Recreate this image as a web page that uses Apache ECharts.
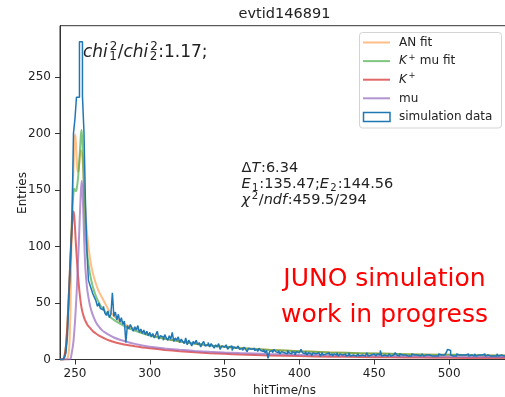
<!DOCTYPE html>
<html>
<head>
<meta charset="utf-8">
<script src="https://cdn.jsdelivr.net/npm/echarts@6/dist/echarts.min.js"></script>
<style>
  html, body { margin: 0; padding: 0; background: #fff; }
  #chart { width: 505px; height: 397px; }
</style>
</head>
<body>
<div id="chart"></div>
<script>
// ---- histogram: 1 ns bins starting at 240 ns ----
const binStart = 240;
const binWidth = 1;
const counts = [
  0, 0, 0, 2, 6, 22, 59, 91, 120, 200,
  213, 232, 232, 281, 281, 233, 202, 140, 96, 70,
  66, 62, 58, 55, 52, 47, 50, 45, 44, 47,
  41, 39, 43, 37, 40, 59, 38, 42, 35, 40,
  33, 37, 31, 34, 15, 30, 27, 31, 28, 25,
  29, 26, 30, 24, 27, 23, 26, 22, 25, 21,
  24, 20, 23, 19, 22, 25, 18, 21, 20, 17,
  22, 19, 17, 21, 18, 24, 16, 19, 17, 20,
  15, 18, 16, 14, 19, 13, 17, 15, 12, 16,
  14, 17, 13, 15, 11, 14, 16, 12, 13, 15,
  11, 14, 12, 10, 13, 11, 14, 9, 12, 11,
  10, 13, 9, 11, 12, 8, 11, 10, 9, 12,
  9, 10, 8, 11, 9, 7, 10, 9, 8, 10,
  8, 9, 7, 10, 8, 7, 9, 6, 8, 1,
  7, 8, 6, 9, 7, 6, 8, 5, 7, 6,
  7, 5, 8, 6, 5, 7, 6, 4, 7, 6,
  5, 9, 6, 5, 7, 4, 6, 5, 3, 6,
  5, 4, 6, 5, 3, 6, 4, 5, 4, 6,
  4, 5, 3, 5, 4, 6, 3, 5, 4, 4,
  5, 3, 4, 6, 3, 4, 5, 3, 4, 5,
  3, 4, 5, 3, 4, 6, 3, 4, 3, 5,
  4, 3, 5, 4, 8, 3, 4, 5, 3, 4,
  5, 3, 4, 3, 6, 4, 3, 5, 4, 3,
  4, 5, 3, 4, 3, 5, 4, 3, 4, 5,
  3, 4, 5, 3, 4, 3, 4, 5, 3, 4,
  3, 4, 3, 5, 4, 3, 4, 3, 6, 9,
  8, 4, 3, 4, 3, 5, 4, 3, 4, 3,
  4, 3, 5, 3, 4, 3, 3, 5, 3, 4,
  3, 4, 3, 5, 3, 4, 3, 3, 4, 3,
  4, 3, 5, 3, 4, 3, 3, 4, 3, 3
];

// ---- fitted curves, sampled in time (ns) ----
const fitTime = [
  240, 242, 243, 244, 245, 246,
  246.5, 247, 247.5, 248, 248.5, 249, 249.5, 250,
  250.5, 251, 251.5, 252, 252.5, 253, 253.5, 254,
  254.5, 255, 255.5, 256, 256.5, 257,
  258, 259, 260, 261, 262,
  264, 266, 268, 270, 273, 276, 280,
  285, 290, 295, 300,
  310, 320, 330, 340, 350, 360,
  380, 400, 420, 440, 460, 480, 500, 520, 540
];
const anFit = [
  0, 0, 0, 0, 1, 8,
  20, 45, 90, 125, 150, 168, 188, 199,
  195, 182, 170, 166, 168, 175, 182, 185,
  183, 178, 168, 155, 142, 130,
  113, 100, 90, 82, 76,
  67, 60, 55, 50, 43, 38.5, 34,
  30, 27, 24.3, 22,
  18.5, 16, 14, 12.5, 11.2, 10.2,
  8.6, 7.4, 6.4, 5.6, 5, 4.5, 4.1, 3.8, 3.4
];
const kmuFit = [
  0, 0, 3, 12, 32, 60,
  75, 90.5, 107, 124, 138, 147, 151, 150,
  149, 150, 154, 160, 168, 178, 189, 199,
  203, 192, 172.5, 149.5, 129.5, 114,
  95.5, 84.5, 76, 69.5, 64,
  56, 50.2, 45.8, 42.5, 38.3, 35, 31.7,
  28.3, 25.5, 23.1, 21.2,
  18.3, 16, 14, 12.4, 11.2, 10.1,
  8.5, 7.3, 6.3, 5.6, 5, 4.5, 4.1, 3.75, 3.4
];
const kPlus = [
  0, 0, 3, 12, 32, 60,
  75, 90, 104, 117, 127, 131, 127, 117,
  105, 94, 84, 75, 67, 60, 54, 49,
  45, 42, 39.5, 37.5, 35.5, 34,
  31.5, 29.5, 28, 26.5, 25,
  23, 21.2, 19.8, 18.5, 16.8, 15.5, 14.2,
  12.8, 11.7, 10.7, 9.9,
  8.5, 7.4, 6.4, 5.6, 5, 4.4,
  3.6, 3, 2.5, 2.2, 1.9, 1.7, 1.5, 1.35, 1.2
];
const muFit = [
  0, 0, 0, 0, 0, 0,
  0, 0.5, 3, 7, 11, 16, 24, 33,
  44, 56, 70, 85, 101, 118, 135, 150,
  158, 150, 133, 112, 94, 80,
  64, 55, 48, 43, 39,
  33, 29, 26, 24, 21.5, 19.5, 17.5,
  15.5, 13.8, 12.4, 11.3,
  9.8, 8.6, 7.6, 6.8, 6.2, 5.7,
  4.9, 4.3, 3.8, 3.4, 3.1, 2.8, 2.6, 2.4, 2.2
];

const xTicks = [250, 300, 350, 400, 450, 500];
const yTicks = [0, 50, 100, 150, 200, 250];

// ---- colours ----
const C_AN = 'rgba(255,127,14,0.5)';
const C_KMU = 'rgba(44,160,44,0.6)';
const C_K = 'rgba(214,39,40,0.7)';
const C_MU = 'rgba(148,103,189,0.7)';
const C_DATA = '#1f77b4';
const INK = '#222';
const FAMILY = '"DejaVu Sans"';

// ---- small text layout helpers (italic, superscripts, subscripts) ----
const meas = document.createElement('canvas').getContext('2d');
function textW(s, size, italic) {
  meas.font = (italic ? 'italic ' : '') + size + 'px ' + FAMILY;
  return meas.measureText(s).width;
}
function txt(s, x, base, size, italic, color) {
  return {
    type: 'text', x: x, y: base - size * 0.35, silent: true,
    style: {
      text: s, fontSize: size, fontFamily: 'DejaVu Sans',
      fontStyle: italic ? 'italic' : 'normal',
      fill: color, align: 'left', verticalAlign: 'middle'
    }
  };
}
function mathRun(x, base, size, color, segs) {
  const out = [];
  const small = size * 0.7;
  let cx = x;
  segs.forEach(function (s) {
    if (s.t != null) {
      out.push(txt(s.t, cx, base, size, s.i, color));
      cx += textW(s.t, size, s.i) + (s.i ? size * 0.05 : 0);
    } else {
      let w = 0;
      if (s.sup != null) {
        out.push(txt(s.sup, cx + 1, base - size * 0.42, small, false, color));
        w = Math.max(w, textW(s.sup, small, false));
      }
      if (s.sub != null) {
        out.push(txt(s.sub, cx + 0.5, base + size * 0.18, small, false, color));
        w = Math.max(w, textW(s.sub, small, false));
      }
      cx += w + 1.5;
    }
  });
  return out;
}

// ---- legend ----
const legendItems = [
  { color: C_AN, segs: [{ t: 'AN fit' }] },
  { color: C_KMU, segs: [{ t: 'K', i: true }, { sup: '+' }, { t: ' mu fit' }] },
  { color: C_K, segs: [{ t: 'K', i: true }, { sup: '+' }] },
  { color: C_MU, segs: [{ t: 'mu' }] },
  { color: C_DATA, box: true, segs: [{ t: 'simulation data' }] }
];
const legendEls = [{
  type: 'rect', shape: { x: 359.5, y: 32.5, width: 142, height: 95.5, r: 3 },
  style: { fill: 'rgba(255,255,255,0.8)', stroke: '#d4d4d4', lineWidth: 1 }, silent: true
}];
legendItems.forEach(function (it, k) {
  const cy = 42.5 + k * 18.6;
  if (it.box) {
    legendEls.push({ type: 'rect', shape: { x: 363.5, y: cy - 4.5, width: 26.5, height: 9 },
      style: { fill: 'none', stroke: it.color, lineWidth: 1.5 }, silent: true });
  } else {
    legendEls.push({ type: 'line', shape: { x1: 363, y1: cy, x2: 390, y2: cy },
      style: { stroke: it.color, lineWidth: 2 }, silent: true });
  }
  mathRun(399, cy + 4.3, 12, INK, it.segs).forEach(function (e) { legendEls.push(e); });
});

// ---- annotations ----
const annot = [].concat(
  mathRun(83, 58.5, 17, INK, [
    { t: 'chi', i: true }, { sup: '2', sub: '1' }, { t: '/' },
    { t: 'chi', i: true }, { sup: '2', sub: '2' }, { t: ':1.17;' }
  ]),
  mathRun(241.5, 173.3, 14.5, INK, [{ t: 'Δ' }, { t: 'T', i: true }, { t: ':6.34' }]),
  mathRun(241.5, 189.6, 14.5, INK, [
    { t: 'E', i: true }, { sub: '1' }, { t: ':135.47;' },
    { t: 'E', i: true }, { sub: '2' }, { t: ':144.56' }
  ]),
  mathRun(241.5, 205.8, 14.5, INK, [
    { t: 'χ', i: true }, { sup: '2' }, { t: '/' }, { t: 'ndf', i: true }, { t: ':459.5/294' }
  ])
);

const plain = [
  { type: 'text', x: 284.5, y: 13.8, silent: true,
    style: { text: 'evtid146891', fontSize: 14.5, fontFamily: 'DejaVu Sans', fill: INK, align: 'center', verticalAlign: 'middle' } },
  { type: 'text', x: 284.5, y: 390.5, silent: true,
    style: { text: 'hitTime/ns', fontSize: 12, fontFamily: 'DejaVu Sans', fill: INK, align: 'center', verticalAlign: 'middle' } },
  { type: 'text', x: 22.5, y: 193, rotation: Math.PI / 2, silent: true,
    style: { text: 'Entries', fontSize: 12, fontFamily: 'DejaVu Sans', fill: INK, align: 'center', verticalAlign: 'middle' } },
  { type: 'text', x: 384.5, y: 279.5, silent: true,
    style: { text: 'JUNO simulation', fontSize: 25, fontFamily: 'DejaVu Sans', fill: '#ff0000', align: 'center', verticalAlign: 'middle' } },
  { type: 'text', x: 384.5, y: 315.5, silent: true,
    style: { text: 'work in progress', fontSize: 25, fontFamily: 'DejaVu Sans', fill: '#ff0000', align: 'center', verticalAlign: 'middle' } }
];

// ---- series data ----
function pairs(ys) { return fitTime.map(function (t, i) { return [t, ys[i]]; }); }
const histData = [[binStart, 0]];
counts.forEach(function (c, i) { histData.push([binStart + i * binWidth, c]); });
histData.push([binStart + counts.length * binWidth, 0]);

function fitSeries(name, ys, color) {
  return {
    name: name, type: 'line', data: pairs(ys), symbol: 'none', showSymbol: false,
    smooth: 0.2, lineStyle: { color: color, width: 2 }, silent: true, clip: true
  };
}

const chart = echarts.init(document.getElementById('chart'), null, { renderer: 'canvas' });
chart.setOption({
  animation: false,
  backgroundColor: '#fff',
  grid: {
    left: 60, top: 25.7, right: -4, bottom: 37.5,
    show: true, borderColor: '#333', borderWidth: 1,
    containLabel: false, outerBoundsMode: 'none'
  },
  xAxis: {
    type: 'value', min: 240, max: 540,
    axisLine: { show: true, onZero: false, lineStyle: { color: '#333', width: 1 } },
    axisTick: { show: true, length: 5, customValues: xTicks, lineStyle: { color: '#333', width: 1 } },
    axisLabel: { customValues: xTicks, color: INK, fontSize: 12, fontFamily: 'DejaVu Sans', margin: 8 },
    splitLine: { show: false }
  },
  yAxis: {
    type: 'value', min: 0, max: 295.3,
    axisLine: { show: true, lineStyle: { color: '#333', width: 1 } },
    axisTick: { show: true, length: 5, customValues: yTicks, lineStyle: { color: '#333', width: 1 } },
    axisLabel: { customValues: yTicks, color: INK, fontSize: 12, fontFamily: 'DejaVu Sans', margin: 9 },
    splitLine: { show: false }
  },
  series: [
    fitSeries('AN fit', anFit, C_AN),
    fitSeries('K+ mu fit', kmuFit, C_KMU),
    fitSeries('K+', kPlus, C_K),
    fitSeries('mu', muFit, C_MU),
    {
      name: 'simulation data', type: 'line', step: 'end', data: histData,
      symbol: 'none', showSymbol: false, silent: true, clip: true,
      lineStyle: { color: C_DATA, width: 1.5 }
    }
  ],
  graphic: { elements: [].concat(plain, annot, legendEls) }
});
</script>
</body>
</html>
